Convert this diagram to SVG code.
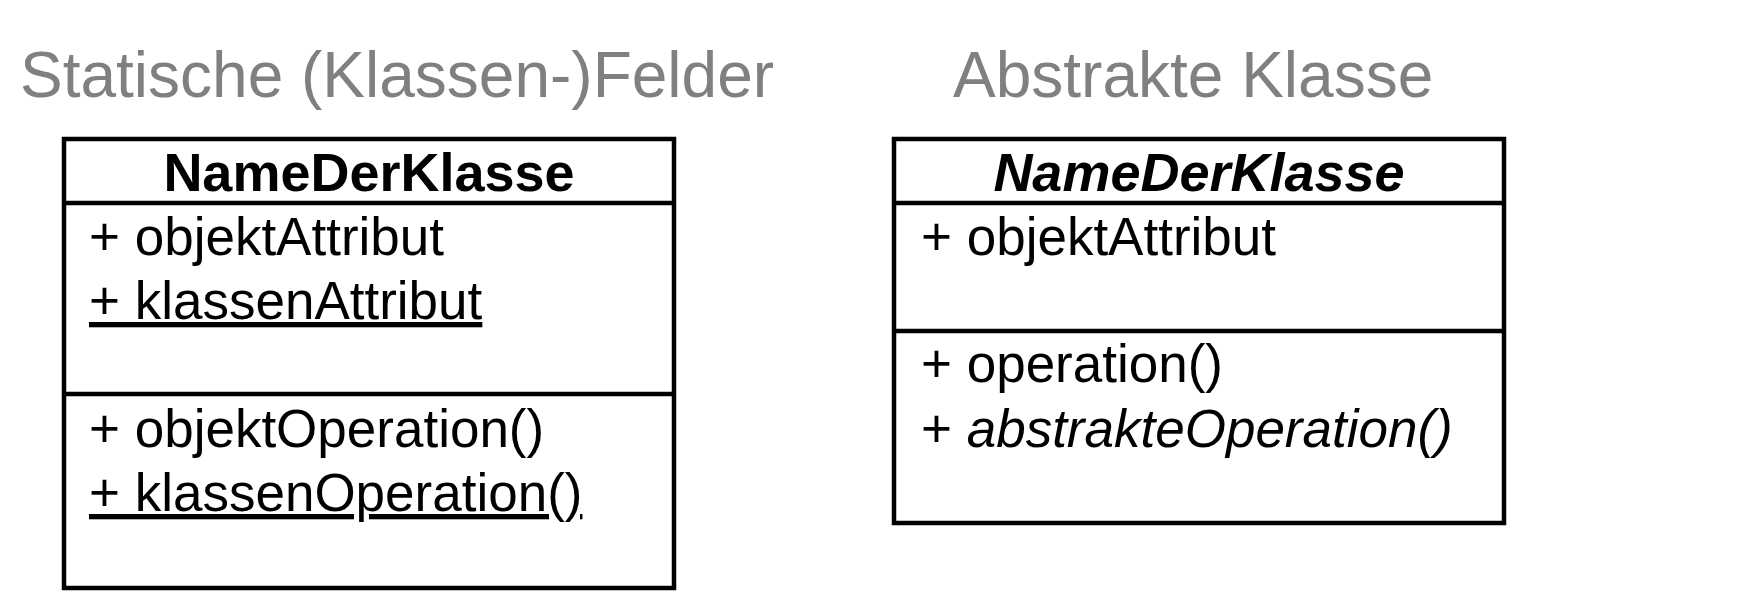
<svg xmlns="http://www.w3.org/2000/svg" width="1738" height="607" viewBox="0 0 1738 607">
  <style>
    .title { font-family: "Liberation Sans", Arial, sans-serif; font-size: 64px; fill: #808080; }
    .box { fill: #ffffff; stroke: #000000; stroke-width: 4.5; }
    .sep { stroke: #000000; stroke-width: 4.5; }
    .name { font-family: "Liberation Sans", Arial, sans-serif; font-size: 54px; font-weight: bold; fill: #000000; text-anchor: middle; }
    .mem { font-family: "Liberation Sans", Arial, sans-serif; font-size: 53px; fill: #000000; }
    .ul { text-decoration: underline; text-decoration-thickness: 2px; }
  </style>
  <rect width="1738" height="607" fill="#ffffff"/>
  <text class="title" x="20" y="97">Statische (Klassen-)Felder</text>
  <text class="title" x="953" y="97">Abstrakte Klasse</text>

  <g id="klasse-statisch">
    <rect class="box" x="64" y="139" width="610" height="449"/>
    <line class="sep" x1="64" y1="203" x2="674" y2="203"/>
    <line class="sep" x1="64" y1="394" x2="674" y2="394"/>
    <text class="name" x="369" y="191">NameDerKlasse</text>
    <text class="mem" x="89" y="255">+ objektAttribut</text>
    <text class="mem ul" x="89" y="319">+ klassenAttribut</text>
    <text class="mem" x="89" y="447">+ objektOperation()</text>
    <text class="mem ul" x="89" y="511">+ klassenOperation()</text>
  </g>

  <g id="klasse-abstrakt">
    <rect class="box" x="894" y="139" width="610" height="384"/>
    <line class="sep" x1="894" y1="203" x2="1504" y2="203"/>
    <line class="sep" x1="894" y1="331" x2="1504" y2="331"/>
    <text class="name" x="1199" y="191" font-style="italic">NameDerKlasse</text>
    <text class="mem" x="921" y="255">+ objektAttribut</text>
    <text class="mem" x="921" y="382">+ operation()</text>
    <text class="mem" x="921" y="447">+ <tspan font-style="italic">abstrakteOperation()</tspan></text>
  </g>

  <g id="connectors"/>
</svg>
